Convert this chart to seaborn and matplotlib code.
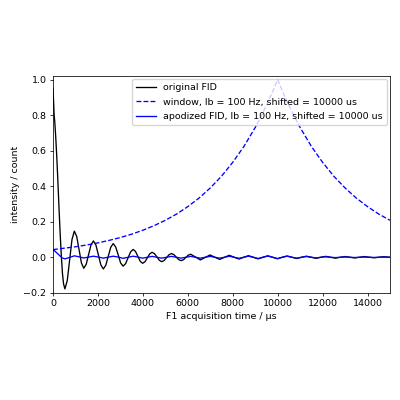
import pandas as pd
import matplotlib
matplotlib.use("Agg")
import matplotlib.pyplot as plt
import seaborn as sns

# original FID (time in us)
fid_t = [0, 25, 50, 80, 120, 170, 220, 270, 320, 370, 420, 470, 530,
         635, 740, 845, 950, 1055, 1160, 1265, 1370, 1477, 1585, 1692, 1800,
         1910, 2020, 2130, 2240, 2350, 2460, 2570, 2680, 2790, 2900, 3010, 3120,
         3231, 3342, 3454, 3565, 3671, 3777, 3884, 3990, 4095, 4200, 4305, 4410,
         4517, 4625, 4732, 4840, 4947, 5055, 5162, 5270, 5377, 5485, 5592, 5700,
         5807, 5915, 6022, 6130, 6345, 6560, 6775, 6990, 7205, 7420, 7635, 7850,
         8065, 8280, 8490, 8700, 8915, 9130, 9345, 9560, 9775, 9990, 10205, 10420,
         10635, 10850, 11065, 11280, 11495, 11710, 11925, 12140, 12355, 12570,
         12785, 13000, 13215, 13430, 13645, 13860, 14075, 14290, 14505, 14720, 15000]
fid_v = [0.95, 0.88, 0.80, 0.76, 0.68, 0.56, 0.42, 0.27, 0.13, 0.01, -0.09, -0.15, -0.178,
         -0.131, -0.016, 0.100, 0.147, 0.117, 0.043, -0.032, -0.062, -0.040, 0.015, 0.070, 0.092,
         0.069, 0.013, -0.043, -0.066, -0.045, 0.006, 0.056, 0.077, 0.058, 0.014, -0.032, -0.050,
         -0.036, -0.003, 0.030, 0.044, 0.033, 0.005, -0.023, -0.034, -0.025, -0.003, 0.019, 0.028,
         0.020, 0.002, -0.017, -0.025, -0.018, -0.002, 0.014, 0.021, 0.015, 0.001, -0.013, -0.019,
         -0.014, -0.001, 0.012, 0.017, 0.001, -0.015, -0.001, 0.013, 0.000, -0.012, 0.000, 0.011,
         0.000, -0.010, 0.000, 0.009, 0.000, -0.009, 0.000, 0.008, 0.000, -0.008, 0.000, 0.007,
         0.000, -0.007, 0.000, 0.006, 0.000, -0.006, 0.000, 0.005, 0.000, -0.005,
         0.000, 0.004, 0.000, -0.004, 0.000, 0.004, 0.000, -0.003, 0.000, 0.003, 0.000]

# window curve
win_t = [0, 500, 1000, 1500, 2000, 2500, 3000, 3500, 4000, 4500, 5000, 5500, 6000,
         6500, 7000, 7500, 8000, 8500, 9000, 9250, 9500, 9750, 10000, 10250, 10500,
         10750, 11000, 11500, 12000, 12500, 13000, 13500, 14000, 14500, 15000]
win_v = [0.043, 0.051, 0.059, 0.069, 0.081, 0.095, 0.111, 0.130, 0.152, 0.178, 0.208, 0.243, 0.285,
         0.333, 0.390, 0.456, 0.534, 0.624, 0.730, 0.790, 0.855, 0.924, 1.0, 0.924, 0.855,
         0.790, 0.730, 0.624, 0.534, 0.456, 0.390, 0.333, 0.285, 0.243, 0.208]

# apodized FID
apo_t = [0, 100, 200, 300, 400, 530, 740, 950, 1160, 1370, 1585, 1800, 2020, 2240, 2460,
         2680, 2900, 3120, 3342, 3565, 3777, 3990, 4200, 4410, 4625, 4840, 5055, 5270,
         5485, 5700, 5915, 6130, 6345, 6560, 6775, 6990, 7205, 7420, 7635, 7850, 8065,
         8280, 8490, 8700, 8915, 9130, 9345, 9560, 9775, 9990, 10205, 10420, 10635, 10850,
         11065, 11280, 11495, 11710, 11925, 12140, 12355, 12570, 12785, 13000, 13215, 13430,
         13645, 13860, 14075, 14290, 14505, 14720, 15000]
apo_v = [0.042, 0.033, 0.021, 0.009, -0.003, -0.009, -0.001, 0.008, 0.0025, -0.004, 0.001, 0.006,
         0.001, -0.005, 0.0005, 0.006, 0.001, -0.006, 0.0, 0.006, 0.001, -0.005, 0.0, 0.005,
         0.0, -0.005, 0.0, 0.005, 0.0, -0.005, 0.0, 0.005, 0.0, -0.005, 0.0, 0.005, 0.0,
         -0.005, 0.0, 0.0056, 0.0, -0.006, 0.0, 0.006, 0.0, -0.007, 0.0, 0.007, 0.0, -0.008,
         0.0, 0.006, 0.0, -0.005, 0.0, 0.004, 0.0, -0.0035, 0.0, 0.0025, 0.0, -0.002, 0.0,
         0.0016, 0.0, -0.0014, 0.0, 0.0012, 0.0, -0.001, 0.0, 0.0008, 0.0]

fid = pd.DataFrame({"t": fid_t, "v": fid_v})
win = pd.DataFrame({"t": win_t, "v": win_v})
apo = pd.DataFrame({"t": apo_t, "v": apo_v})

plt.rcParams.update({
    "font.size": 6.8,
    "lines.linewidth": 0.95,
    "axes.linewidth": 0.55,
    "xtick.major.size": 2.3, "ytick.major.size": 2.3,
    "xtick.major.width": 0.55, "ytick.major.width": 0.55,
    "xtick.major.pad": 2.4, "ytick.major.pad": 2.4,
    "axes.labelpad": 2.8,
    "legend.handlelength": 2.12,
    "legend.labelspacing": 0.6,
})
fig, ax = plt.subplots(figsize=(4, 4), dpi=100)
fig.subplots_adjust(left=0.1325, right=0.975, bottom=0.268, top=0.81)

sns.lineplot(x="t", y="v", data=fid, color="k", label="original FID", ax=ax, estimator=None)
sns.lineplot(x="t", y="v", data=win, color="b", ls="--",
             label="window, lb = 100 Hz, shifted = 10000 us", ax=ax, estimator=None)
sns.lineplot(x="t", y="v", data=apo, color="b",
             label="apodized FID, lb = 100 Hz, shifted = 10000 us", ax=ax, estimator=None)

ax.set_xlim(0, 15000)
ax.set_ylim(-0.2, 1.02)
ax.set_xlabel("F1 acquisition time / µs")
ax.set_ylabel("intensity / count")
ax.legend(loc="upper right", borderaxespad=0.35)

fig.savefig("out.png")
